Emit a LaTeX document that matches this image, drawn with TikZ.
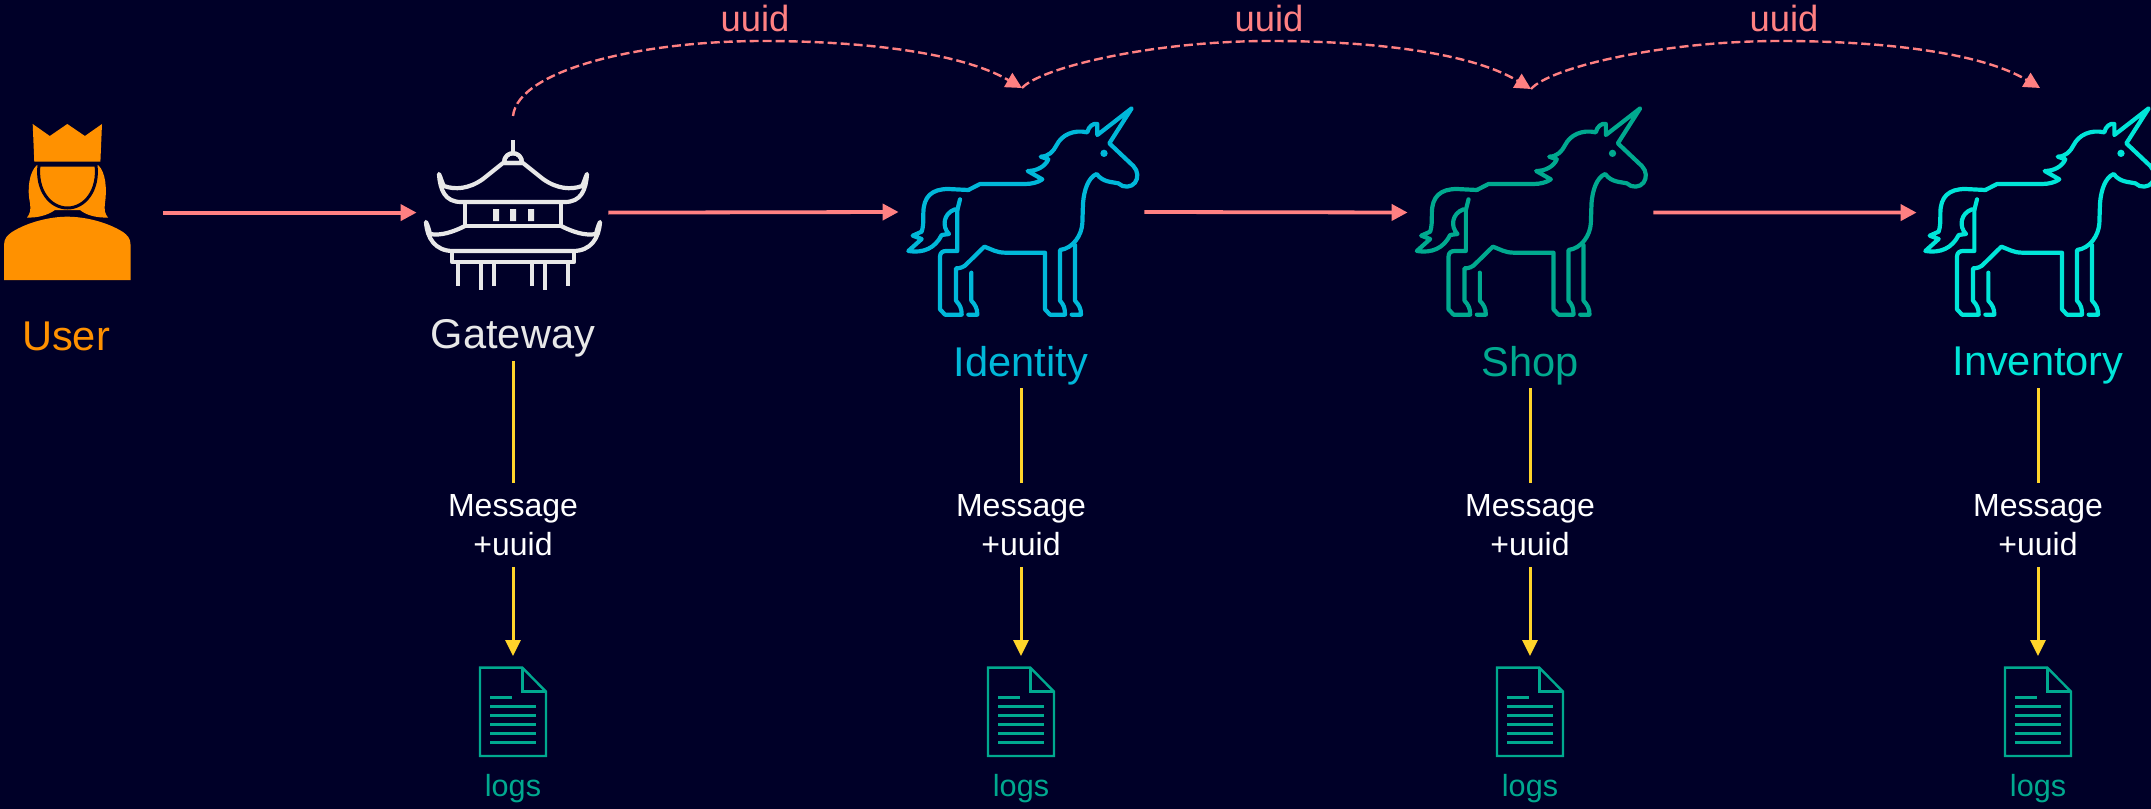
\documentclass[tikz,border=0pt]{standalone}
\usepackage{fontspec}
\setmainfont{Liberation Sans}
\usetikzlibrary{arrows.meta}
\definecolor{bgc}{HTML}{000028}
\definecolor{orangec}{HTML}{FF9100}
\definecolor{pinkc}{HTML}{FF8082}
\definecolor{yellowc}{HTML}{FFD42A}
\definecolor{idc}{HTML}{00B8D9}
\definecolor{shopc}{HTML}{00A98F}
\definecolor{invc}{HTML}{00E5D8}
\definecolor{gwc}{HTML}{E8E8E8}
\newcommand{\drawunicorn}[3]{%
\begin{scope}[shift={(#1,#2)},scale=1/3,draw=#3,line width=2.1pt,line cap=round,line join=round]
\draw (265,300) -- (300,282) -- (435,282) .. controls (455,282) and (475,277) .. (487,268) -- (443,243)
 .. controls (470,243) and (495,230) .. (505,208) -- (482,200) .. controls (505,200) and (520,185) .. (530,165)
 .. controls (545,135) and (580,118) .. (622,127) .. controls (625,110) and (640,98) .. (652,102)
 -- (652,135) -- (755,55) -- (688,160) -- (760,228) .. controls (775,243) and (775,265) .. (765,278)
 .. controls (755,292) and (730,295) .. (715,280) .. controls (695,275) and (670,278) .. (650,252)
 .. controls (625,262) and (612,300) .. (609,340) -- (607,400) .. controls (605,435) and (580,475) .. (540,480)
 -- (540,632) .. controls (552,645) and (555,655) .. (555,674) -- (510,674) -- (495,658) -- (495,488) -- (375,488)
 .. controls (350,488) and (335,478) .. (313,470) -- (262,520) .. controls (252,532) and (240,535) .. (228,535)
 -- (228,632) .. controls (240,645) and (245,655) .. (245,674) -- (195,674) -- (180,658) -- (180,500)
 .. controls (180,488) and (188,483) .. (198,483) -- (232,483) -- (232,360);
\draw (265,300) -- (205,297) .. controls (155,297) and (130,320) .. (130,370) .. controls (130,395) and (130,410) .. (125,425)
 -- (98,437) -- (125,447) -- (85,483) .. controls (130,490) and (165,475) .. (185,435) -- (207,432)
 .. controls (185,410) and (190,370) .. (225,358);
\draw (240,328) -- (232,360);
\draw (585,465) -- (585,632) .. controls (597,645) and (603,655) .. (603,674) -- (575,674);
\draw (274,548) -- (274,632) .. controls (286,645) and (292,655) .. (292,674) -- (265,674);
\fill[#3] (672,190) circle (11);
\end{scope}}
\newcommand{\drawdoc}[1]{%
\begin{scope}[shift={(#1,640)},scale=1/3,draw=shopc,line width=1.2pt]
\draw (120,83) -- (247,83) -- (318,155) -- (318,348) -- (120,348) -- cycle;
\draw (247,83) -- (247,155) -- (318,155);
\draw[line width=1.6pt] (150,172) -- (216,172);
\foreach \yy in {199,226,253,280,307} \draw[line width=1.6pt] (150,\yy) -- (288,\yy);
\end{scope}}
\newcommand{\pagodahalf}{%
\draw (0,140) -- (0,153);
\draw (-9,163) .. controls (-9,150) and (9,150) .. (9,163) -- cycle;
\draw (-10,163) -- (-30,179) .. controls (-44,189) and (-58,190) .. (-69,186) .. controls (-71,183) and (-72,178) .. (-74,174)
 .. controls (-73,190) and (-68,202) .. (-52,202) -- (0,202);
\draw (-48,202) -- (-48,226);
\draw (-48,226) -- (0,226);
\draw (-48,226) .. controls (-60,232) and (-72,236) .. (-83,234) .. controls (-84,230) and (-85,226) .. (-87,222)
 .. controls (-86,238) and (-78,251) .. (-60,251) -- (0,251);
\draw (-61,251) -- (-61,262) -- (0,262);
\draw (-55,262) -- (-55,286);
\draw (-32,262) -- (-32,290);
\draw (-19,262) -- (-19,286);
}
\tikzset{
 iconbox/.style={inner sep=0pt,minimum height=4pt,minimum width=#1},
 lbl/.style={inner sep=0pt,minimum height=22pt,font=\fontsize{20.8}{25}\selectfont},
 msg/.style={inner sep=0pt,minimum height=41.5pt,minimum width=60pt,align=center,text=white,font=\fontsize{16}{19.2}\selectfont},
 logl/.style={inner sep=0pt,text=shopc,font=\fontsize{15.3}{18}\selectfont},
 uuidl/.style={inner sep=0pt,text=pinkc,font=\fontsize{18.2}{22}\selectfont},
 flow/.style={draw=pinkc,line width=1.9pt,-{Triangle[length=8pt,width=8pt]}},
 uuidflow/.style={draw=pinkc,line width=1.2pt,dash pattern=on 4.5pt off 2pt,-{Triangle[length=8pt,width=8pt]}},
 logflow/.style={draw=yellowc,line width=1.5pt},
 logarrow/.style={draw=yellowc,line width=1.5pt,-{Triangle[length=8pt,width=7.5pt]}},
}
\begin{document}
\begin{tikzpicture}[x=0.5pt,y=-0.5pt]
\path[use as bounding box] (0,0) rectangle (2151,808);
\fill[bgc] (-6,-6) rectangle (2157,814);
\clip (0,0) rectangle (2151,808);
% User icon
\begin{scope}[orangec]
\fill (32.7,124) -- (49.8,136) -- (67.3,124) -- (84.9,136) -- (102,124) -- (100.4,161.7) -- (34.3,161.7) -- cycle;
\fill (37,165) .. controls (29,172) and (27,190) .. (30,203) .. controls (31,210) and (30,214) .. (27,217.5) .. controls (38,218) and (48,215) .. (55,210)
 -- (80,210) .. controls (86,215) and (96,218) .. (108,217.5) .. controls (105,214) and (104,210) .. (105,203) .. controls (107,190) and (106,172) .. (98,165) -- cycle;
\filldraw[fill=orangec,draw=bgc,line width=1.5pt] (39,165) .. controls (36,190) and (50,208) .. (67.5,208) .. controls (85,208) and (99,190) .. (96,165) -- cycle;
\fill (4,280) -- (4,245) .. controls (4,238) and (8,235) .. (12,232) .. controls (28,222) and (50,216.7) .. (67.3,216.7) .. controls (85,216.7) and (107,222) .. (123,232) .. controls (127,235) and (130.6,238) .. (130.6,245) -- (130.6,280) -- cycle;
\end{scope}
% Gateway icon
\begin{scope}[shift={(513,0)},draw=gwc,line width=2.1pt,line join=round]
\pagodahalf
\begin{scope}[xscale=-1]\pagodahalf\end{scope}
\fill[gwc] (-20,209) rectangle (-14,221) (-3,209) rectangle (3,221) (15,209) rectangle (21,221);
\end{scope}
% Services
\drawunicorn{880}{90}{idc}
\drawunicorn{1388.5}{90}{shopc}
\drawunicorn{1897}{90}{invc}
\drawdoc{440}
\drawdoc{948}
\drawdoc{1457}
\drawdoc{1965}
% Anchor boxes of the icons
\node[iconbox=0pt,anchor=east] (user) at (163,212.6) {};
\node[iconbox=95.5pt] (gw) at (512.5,212.6) {};
\node[iconbox=122.5pt] (ident) at (1021.5,212) {};
\node[iconbox=122.5pt] (shop) at (1530.5,212.5) {};
\node[iconbox=122.5pt] (inv) at (2039.5,212.6) {};
% Labels
\node[lbl,text=orangec] (userl) at (66,336) {User};
\node[lbl,text=gwc] (gwl) at (513,338.5) {Gateway};
\node[lbl,text=idc] (identl) at (1021,366) {Identity};
\node[lbl,text=shopc] (shopl) at (1530,366) {Shop};
\node[lbl,text=invc] (invl) at (2038,366) {Inventory};
\node[msg] (m1) at (513,525) {Message\\+uuid};
\node[msg] (m2) at (1021,525) {Message\\+uuid};
\node[msg] (m3) at (1530,525) {Message\\+uuid};
\node[msg] (m4) at (2038,525) {Message\\+uuid};
\coordinate (d1) at (513,656);
\coordinate (d2) at (1021,656);
\coordinate (d3) at (1530,656);
\coordinate (d4) at (2038,656);
\node[logl] (l1) at (513,788.5) {logs};
\node[logl] (l2) at (1021,788.5) {logs};
\node[logl] (l3) at (1530,788.5) {logs};
\node[logl] (l4) at (2038,788.5) {logs};
% Flow
\draw[flow] (user.east) -- (gw.west);
\draw[flow] (gw.east) -- (ident.west);
\draw[flow] (ident.east) -- (shop.west);
\draw[flow] (shop.east) -- (inv.west);
% Logging
\draw[logflow] (gwl.south) -- (m1.north);
\draw[logflow] (identl.south) -- (m2.north);
\draw[logflow] (shopl.south) -- (m3.north);
\draw[logflow] (invl.south) -- (m4.north);
\draw[logarrow] (m1.south) -- (d1);
\draw[logarrow] (m2.south) -- (d2);
\draw[logarrow] (m3.south) -- (d3);
\draw[logarrow] (m4.south) -- (d4);
% uuid propagation
\coordinate (a0) at (513,116);
\coordinate (a1) at (1022,88);
\coordinate (a2) at (1531,89);
\coordinate (a3) at (2040,88);
\draw[uuidflow] (a0) .. controls (518,70) and (640,41) .. (762,41) .. controls (860,41) and (960,52) .. (a1);
\draw[uuidflow] (a1) .. controls (1040,68) and (1150,41) .. (1270,41) .. controls (1370,41) and (1470,52) .. (a2);
\draw[uuidflow] (a2) .. controls (1549,68) and (1660,41) .. (1780,41) .. controls (1880,41) and (1980,52) .. (a3);
\node[uuidl] (u1) at (755,18) {uuid};
\node[uuidl] (u2) at (1269,18) {uuid};
\node[uuidl] (u3) at (1784,18) {uuid};
\end{tikzpicture}
\end{document}
